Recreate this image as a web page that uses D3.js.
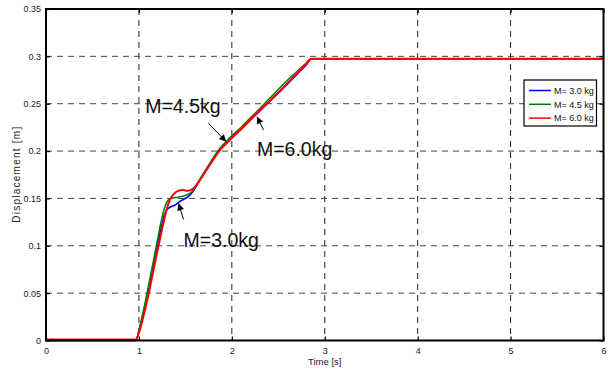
<!DOCTYPE html>
<html><head><meta charset="utf-8">
<script src="https://cdn.jsdelivr.net/npm/d3@7"></script>
<style>body{margin:0;background:#fff;}svg{display:block;font-family:"Liberation Sans",Arial,sans-serif;}</style>
</head><body>
<svg id="c" width="608" height="371"></svg>
<script>
const xTicks = [0,1,2,3,4,5,6];
const yTicks = [0,0.05,0.1,0.15,0.2,0.25,0.3,0.35];
const seriesNames = ["M= 3.0 kg","M= 4.5 kg","M= 6.0 kg"];
const m30 = [[0,0],[0.97,0],[1.0,0.010],[1.05,0.030],[1.1,0.052],[1.15,0.077],[1.2,0.100],[1.24,0.119],[1.27,0.131],[1.30,0.138],[1.34,0.141],[1.39,0.143],[1.43,0.146],[1.48,0.149],[1.53,0.152],[1.58,0.157],[1.63,0.165],[1.68,0.173],[1.75,0.184],[1.82,0.195],[1.88,0.203],[1.95,0.209],[2.0,0.214],[2.1,0.223],[2.2,0.233],[2.3,0.242],[2.4,0.252],[2.5,0.261],[2.6,0.271],[2.7,0.281],[2.8,0.291],[2.86,0.2975],[3,0.2975],[4,0.2975],[5,0.2975],[6,0.2975]];
const m45 = [[0,0],[0.97,0],[1.0,0.011],[1.05,0.032],[1.1,0.056],[1.15,0.081],[1.2,0.106],[1.24,0.126],[1.27,0.138],[1.30,0.146],[1.34,0.150],[1.40,0.151],[1.46,0.152],[1.52,0.154],[1.57,0.157],[1.62,0.164],[1.68,0.174],[1.75,0.185],[1.82,0.196],[1.88,0.204],[1.95,0.211],[2.0,0.216],[2.1,0.225],[2.2,0.235],[2.3,0.245],[2.4,0.255],[2.5,0.265],[2.6,0.275],[2.7,0.284],[2.8,0.293],[2.85,0.2975],[3,0.2975],[4,0.2975],[5,0.2975],[6,0.2975]];
const m60 = [[0,0.001],[0.97,0.001],[1.0,0.008],[1.05,0.026],[1.1,0.047],[1.15,0.071],[1.2,0.095],[1.25,0.118],[1.29,0.135],[1.33,0.148],[1.37,0.154],[1.42,0.158],[1.47,0.159],[1.52,0.158],[1.56,0.159],[1.61,0.163],[1.66,0.170],[1.72,0.179],[1.8,0.191],[1.88,0.202],[1.95,0.209],[2.0,0.214],[2.1,0.223],[2.2,0.233],[2.3,0.243],[2.4,0.252],[2.5,0.262],[2.6,0.272],[2.7,0.282],[2.8,0.292],[2.86,0.2975],[3,0.2975],[4,0.2975],[5,0.2975],[6,0.2975]];
const annoText = ["M=4.5kg","M=6.0kg","M=3.0kg"];
const annoTextPos = [[1.068,0.2407],[2.270,0.1943],[1.480,0.0990]];
const arrowTail = [[1.748,0.2294],[2.341,0.2223],[1.480,0.1278]];
const arrowTip = [[1.940,0.2099],[2.270,0.2363],[1.427,0.1449]];

const svg = d3.select("#c");
const L=46, T=9, R=603.5, B=340.5;
const x = d3.scaleLinear().domain([0,6]).range([L,R]);
const y = d3.scaleLinear().domain([0,0.35]).range([B,T]);
const colors = ["#0000ff","#008000","#ff0000"];
const data = [m30,m45,m60];

// grid
const g = svg.append("g");
g.selectAll(".vg").data(xTicks.slice(1,-1)).enter().append("line")
  .attr("x1",d=>x(d)).attr("x2",d=>x(d)).attr("y1",T).attr("y2",B)
  .attr("stroke","#222").attr("stroke-width",1).attr("stroke-dasharray","6,5");
g.selectAll(".hg").data(yTicks.slice(1,-1)).enter().append("line")
  .attr("x1",L).attr("x2",R).attr("y1",d=>y(d)).attr("y2",d=>y(d))
  .attr("stroke","#444").attr("stroke-width",1).attr("stroke-dasharray","6,5");

// axes
const xa = svg.append("g").attr("transform",`translate(0,${B})`)
  .call(d3.axisBottom(x).tickValues(xTicks).tickSize(-4).tickPadding(7).tickFormat(d3.format("d")));
const xt = svg.append("g").attr("transform",`translate(0,${T})`)
  .call(d3.axisTop(x).tickValues(xTicks).tickSize(-4).tickFormat(""));
const ya = svg.append("g").attr("transform",`translate(${L},0)`)
  .call(d3.axisLeft(y).tickValues(yTicks).tickSize(-4).tickPadding(5).tickFormat(d=>d===0?"0":String(+d.toFixed(2))));
const yr = svg.append("g").attr("transform",`translate(${R},0)`)
  .call(d3.axisRight(y).tickValues(yTicks).tickSize(-4).tickFormat(""));
[xa,xt,ya,yr].forEach(a=>{
  a.select(".domain").remove();
  a.selectAll(".tick line").attr("stroke","#000").attr("stroke-width",1.2);
  a.selectAll(".tick text").attr("font-size",9).attr("fill","#222").attr("font-family","Liberation Sans, Arial, sans-serif");
});

// lines
const line = d3.line().x(d=>x(d[0])).y(d=>y(d[1])).curve(d3.curveMonotoneX);
data.forEach((s,i)=>{
  svg.append("path").datum(s).attr("d",line).attr("fill","none")
    .attr("stroke",colors[i]).attr("stroke-width",i===2?2:1.6).attr("stroke-linejoin","round");
});

// border
svg.append("rect").attr("x",L).attr("y",T).attr("width",R-L).attr("height",B-T)
  .attr("fill","none").attr("stroke","#000").attr("stroke-width",2);

// annotations
const defs = svg.append("defs");
defs.append("marker").attr("id","ah").attr("viewBox","0 0 10 10").attr("refX",10).attr("refY",5)
  .attr("markerWidth",9).attr("markerHeight",7).attr("markerUnits","userSpaceOnUse").attr("orient","auto")
  .append("path").attr("d","M0,0 L10,5 L0,10 Z").attr("fill","#000");
annoText.forEach((t,i)=>{
  svg.append("text").attr("x",x(annoTextPos[i][0])).attr("y",y(annoTextPos[i][1]))
    .attr("font-size",19.5).attr("fill","#111").text(t);
  svg.append("line").attr("x1",x(arrowTail[i][0])).attr("y1",y(arrowTail[i][1]))
    .attr("x2",x(arrowTip[i][0])).attr("y2",y(arrowTip[i][1]))
    .attr("stroke","#000").attr("stroke-width",1).attr("marker-end","url(#ah)");
});

// axis labels
svg.append("text").attr("x",(L+R)/2).attr("y",365).attr("text-anchor","middle")
  .attr("font-size",9.5).attr("fill","#222").text("Time [s]");
svg.append("text").attr("transform",`translate(20,${(T+B)/2}) rotate(-90)`).attr("text-anchor","middle")
  .attr("font-size",10).attr("fill","#222").attr("textLength",96).attr("lengthAdjust","spacing").text("Displacement [m]");

// legend
const lg = svg.append("g").attr("transform","translate(524,80)");
lg.append("rect").attr("width",72.5).attr("height",46).attr("fill","#fff").attr("stroke","#000").attr("stroke-width",1.2);
seriesNames.forEach((n,i)=>{
  const yy = 10.5 + i*13.8;
  lg.append("line").attr("x1",5).attr("x2",27).attr("y1",yy).attr("y2",yy).attr("stroke",colors[i]).attr("stroke-width",1.5);
  lg.append("text").attr("x",30).attr("y",yy+3.3).attr("font-size",9).attr("fill","#111").text(n);
});
</script>
</body></html>
